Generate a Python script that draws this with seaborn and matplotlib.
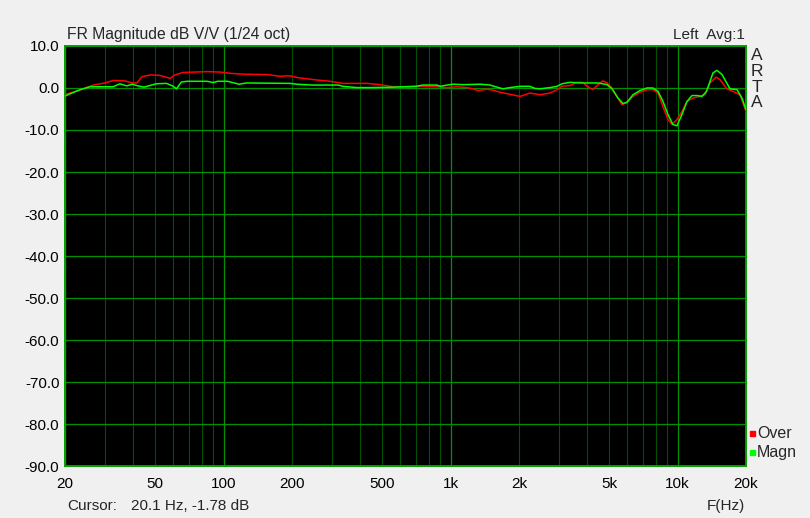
import matplotlib
matplotlib.use("Agg")
import matplotlib.pyplot as plt
import numpy as np
import pandas as pd
import seaborn as sns

# "Over" trace (red)
over_freq = [20, 23, 26.6, 30, 32.6, 36.7, 39.5, 41.5, 43.7, 47.4, 52.4, 58, 61, 66,
             84.5, 96.4, 106.6, 121.6, 155, 177, 196, 210, 248, 294, 335, 428, 489,
             557, 662, 755, 870, 964, 1066, 1180, 1254, 1319, 1446, 1535, 1650, 1826,
             2020, 2234, 2476, 2740, 2940, 3092, 3356, 3604, 3828, 3988, 4236, 4458,
             4688, 4886, 5138, 5404, 5684, 5980, 6356, 6828, 7328, 7780, 8190, 8614,
             9060, 9440, 9932, 10448, 10992, 11686, 12540, 13192, 13876, 14758, 15354,
             16486, 17530, 18824, 20000]
over_db = [-1.5, -0.6, 0.7, 1.2, 1.8, 1.7, 1.2, 1.2, 2.7, 3.1, 3.0, 2.3, 3.1, 3.7,
           3.9, 3.8, 3.5, 3.3, 3.2, 2.8, 2.9, 2.5, 2.0, 1.6, 1.1, 1.1, 0.8,
           0.3, 0.3, 0.4, 0.3, 0.1, 0.3, 0.1, -0.2, -0.6, -0.3, -0.5, -1.0, -1.5,
           -2.0, -1.2, -1.6, -1.2, -0.4, 0.4, 0.6, 1.35, 1.35, 0.4, -0.4, 0.8,
           1.7, 1.2, 0.0, -2.0, -4.0, -3.4, -2.0, -1.0, -0.4, -0.4, -1.2, -4.4,
           -7.5, -8.7, -7.5, -5.6, -3.2, -2.4, -2.0, -1.6, 1.2, 2.6, 2.0,
           -0.2, -0.8, -1.6, -5.6]

# "Magn" trace (green)
magn_freq = [20, 23.3, 25.8, 32.6, 34.9, 37.4, 39.5, 42, 44.5, 47.4, 50.5, 56, 59.5,
             62, 65, 69, 84.5, 90, 94, 104, 117, 126, 196, 210, 245, 320, 335, 386,
             450, 557, 700, 755, 870, 900, 964, 1020, 1140, 1350, 1490, 1600, 1700,
             1826, 2020, 2234, 2350, 2476, 2740, 2940, 3092, 3356, 3700, 4458, 4886,
             5138, 5458, 5740, 5980, 6356, 6828, 7328, 7780, 8190, 8614, 9060, 9532,
             9932, 10448, 10992, 11570, 12200, 12800, 13400, 14312, 14900, 15680,
             17000, 18260, 19200, 20000]
magn_db = [-1.9, -0.4, 0.3, 0.3, 1.0, 0.5, 0.9, 0.5, 0.2, 0.6, 1.0, 1.1, 0.5,
           -0.2, 1.4, 1.6, 1.6, 1.3, 1.6, 1.6, 0.9, 1.2, 1.1, 0.9, 0.7, 0.7, 0.4, 0.1,
           0.1, 0.2, 0.4, 0.7, 0.7, 0.4, 0.7, 0.9, 0.8, 0.9, 0.7, 0.2, -0.2,
           0.1, 0.4, 0.4, -0.1, -0.2, 0.1, 0.4, 1.0, 1.35, 1.2, 1.2, 0.8,
           -0.2, -2.4, -3.7, -3.4, -1.6, -0.6, 0.0, 0.0, -0.8, -3.2, -6.3, -8.7,
           -9.0, -6.3, -3.2, -1.8, -1.8, -2.0, -0.8, 3.6, 4.2, 3.2,
           -0.2, -0.4, -2.4, -5.2]

xtick_vals = [20, 50, 100, 200, 500, 1000, 2000, 5000, 10000, 20000]
xtick_text = ["20", "50", "100", "200", "500", "1k", "2k", "5k", "10k", "20k"]
ytick_vals = list(range(10, -100, -10))

df = pd.concat([
    pd.DataFrame({"freq": over_freq, "db": over_db, "trace": "Over"}),
    pd.DataFrame({"freq": magn_freq, "db": magn_db, "trace": "Magn"}),
])

sns.set_style("dark")
plt.rcParams["font.family"] = ["Liberation Sans", "DejaVu Sans"]
plt.rcParams["font.size"] = 11

fig = plt.figure(figsize=(8.1, 5.18), dpi=100, facecolor="#f0f0f0")
ax = fig.add_axes([65 / 810, 52 / 518, 681 / 810, 420 / 518])
ax.set_facecolor("black")

# grid: minor decades darker, major and dB lines brighter
for dec in [10, 100, 1000, 10000]:
    for m in range(2, 10):
        f = dec * m
        if 20 < f < 20000:
            ax.axvline(f, color="#005000", lw=0.8, zorder=1)
for f in [100, 1000, 10000]:
    ax.axvline(f, color="#009000", lw=0.9, zorder=1)
for y in ytick_vals[1:-1]:
    ax.axhline(y, color="#009000", lw=0.9, zorder=1)

# cursor at 20.1 Hz
ax.axvline(20.1, color="#c8d000", lw=1.6, zorder=2)

sns.lineplot(data=df, x="freq", y="db", hue="trace", hue_order=["Over", "Magn"],
             palette={"Over": "#ff0000", "Magn": "#00ff00"}, sort=False,
             estimator=None, lw=1.1, legend=False, ax=ax, zorder=3)

ax.set_xscale("log")
ax.set_xlim(20, 20000)
ax.set_ylim(-90, 10)
ax.set_xticks(xtick_vals)
ax.set_xticklabels(xtick_text)
ax.xaxis.set_minor_locator(matplotlib.ticker.NullLocator())
ax.set_yticks(ytick_vals)
ax.set_yticklabels([f"{v:.1f}" for v in ytick_vals])
ax.tick_params(length=0, labelsize=11, colors="black")
ax.tick_params(axis="y", pad=4)
ax.tick_params(axis="x", pad=8)
ax.set_xlabel("")
ax.set_ylabel("")
ax.grid(False)
for s in ax.spines.values():
    s.set_visible(True)
    s.set_color("#00a000")
    s.set_linewidth(1.4)

fig.text(67 / 810, 1 - 35 / 518, "FR Magnitude dB V/V (1/24 oct)", fontsize=11.3, va="center", ha="left")
fig.text(745 / 810, 1 - 35 / 518, "Left  Avg:1", fontsize=11, va="center", ha="right")
for i, ch in enumerate("ARTA"):
    fig.text(757 / 810, 1 - (55 + 16 * i) / 518, ch, fontsize=12.5, va="center", ha="center")

fig.text(67 / 810, 1 - 506 / 518, "Cursor:", fontsize=11, va="center", ha="left")
fig.text(131 / 810, 1 - 506 / 518, "20.1 Hz, -1.78 dB", fontsize=11, va="center", ha="left")
fig.text(745 / 810, 1 - 506 / 518, "F(Hz)", fontsize=11, va="center", ha="right")

# legend on the right
for i, (name, col) in enumerate([("Over", "#ff0000"), ("Magn", "#00ff00")]):
    y = 1 - (433 + 19 * i) / 518
    fig.patches.append(matplotlib.patches.Rectangle((750 / 810, y - 2.5 / 518), 5 / 810, 5 / 518,
                                                    transform=fig.transFigure, color=col))
    fig.text(757 / 810, y, name, fontsize=11.5, va="center", ha="left")

fig.savefig("out.png", dpi=100, facecolor="#f0f0f0")
